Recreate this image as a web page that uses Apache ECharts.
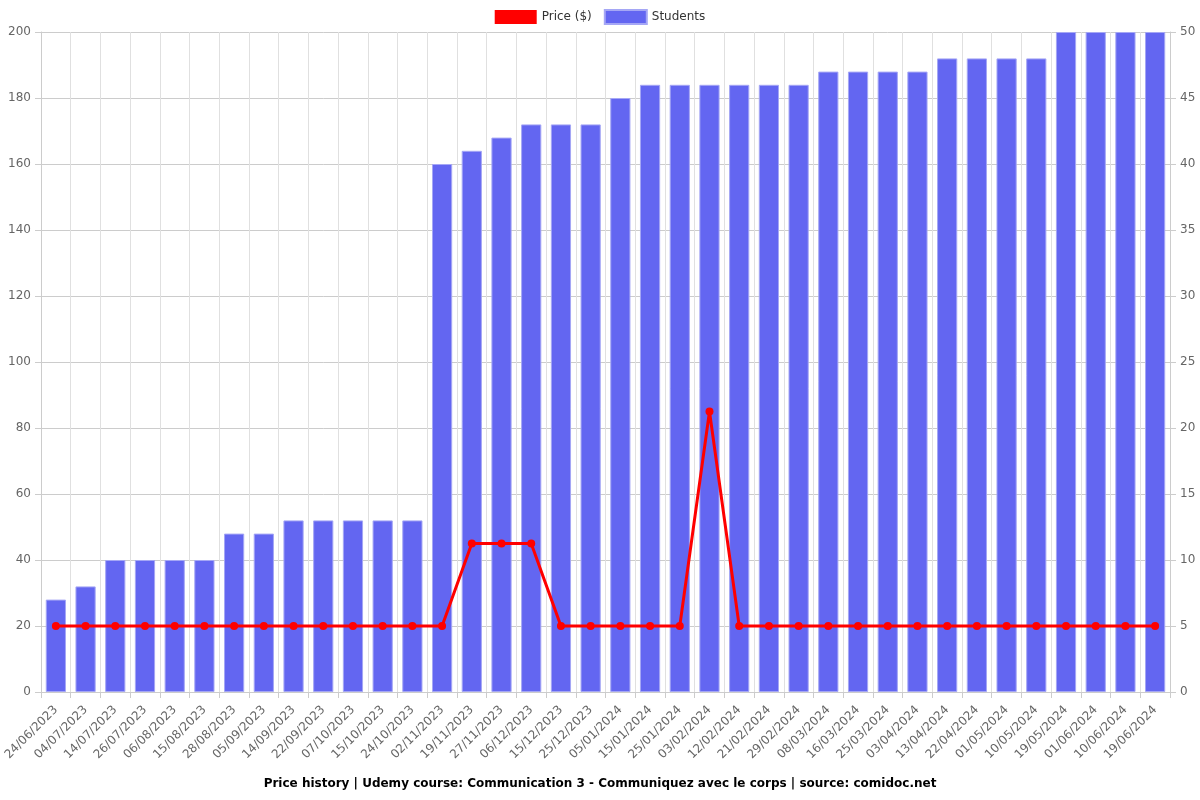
<!DOCTYPE html>
<html><head><meta charset="utf-8">
<script src="https://cdn.jsdelivr.net/npm/echarts@6/dist/echarts.min.js"></script>
<style>html,body{margin:0;padding:0;background:#fff}#c{width:1200px;height:800px}</style>
</head><body><div id="c"></div>
<script>
const categories = ["24/06/2023","04/07/2023","14/07/2023","26/07/2023","06/08/2023","15/08/2023","28/08/2023","05/09/2023","14/09/2023","22/09/2023","07/10/2023","15/10/2023","24/10/2023","02/11/2023","19/11/2023","27/11/2023","06/12/2023","15/12/2023","25/12/2023","05/01/2024","15/01/2024","25/01/2024","03/02/2024","12/02/2024","21/02/2024","29/02/2024","08/03/2024","16/03/2024","25/03/2024","03/04/2024","13/04/2024","22/04/2024","01/05/2024","10/05/2024","19/05/2024","01/06/2024","10/06/2024","19/06/2024"];
const price = [20,20,20,20,20,20,20,20,20,20,20,20,20,20,45,45,45,20,20,20,20,20,85,20,20,20,20,20,20,20,20,20,20,20,20,20,20,20];
const students = [7,8,10,10,10,10,12,12,13,13,13,13,13,40,41,42,43,43,43,45,46,46,46,46,46,46,47,47,47,47,48,48,48,48,50,50,50,50];
const leftTicks = {min:0,max:200,interval:20};
const rightTicks = {min:0,max:50,interval:5};
const titleText = "Price history | Udemy course: Communication 3 - Communiquez avec le corps | source: comidoc.net";

const font = "DejaVu Sans";
const chart = echarts.init(document.getElementById('c'), null, {renderer:'canvas'});
chart.setOption({
  animation:false,
  textStyle:{fontFamily:font},
  title:{text:titleText,left:'center',bottom:5,textStyle:{fontFamily:font,fontSize:12,fontWeight:'bold',color:'#000'}},
  legend:{top:4,left:'center',itemWidth:42,itemHeight:14,itemGap:12,textStyle:{fontFamily:font,fontSize:12,color:'#333'},
    data:[{name:'Price ($)',icon:'rect'},{name:'Students',icon:'rect'}]},
  grid:{left:41,right:30,top:32,bottom:108},
  xAxis:{type:'category',data:categories,boundaryGap:true,
    axisLine:{lineStyle:{color:'#ccc'}},
    axisTick:{show:true,alignWithLabel:false,length:6,lineStyle:{color:'#ccc'}},
    splitLine:{show:true,lineStyle:{color:'#e0e0e0'}},
    axisLabel:{rotate:45,interval:0,fontSize:12,color:'#666',fontFamily:font,margin:16}},
  yAxis:[
    {type:'value',min:leftTicks.min,max:leftTicks.max,interval:leftTicks.interval,
      axisLine:{show:true,lineStyle:{color:'#ccc'}},
      axisTick:{show:true,length:6,lineStyle:{color:'#ccc'}},
      splitLine:{lineStyle:{color:'#ccc'}},
      axisLabel:{fontSize:12,color:'#666',fontFamily:font,margin:10}},
    {type:'value',min:rightTicks.min,max:rightTicks.max,interval:rightTicks.interval,
      axisLine:{show:true,lineStyle:{color:'#ccc'}},
      axisTick:{show:true,length:6,lineStyle:{color:'#ccc'}},
      splitLine:{show:false},
      axisLabel:{fontSize:12,color:'#666',fontFamily:font,margin:10}}
  ],
  series:[
    {name:'Price ($)',type:'line',data:price,yAxisIndex:0,z:3,
      symbol:'circle',symbolSize:8,
      lineStyle:{color:'#ff0000',width:3},
      itemStyle:{color:'#ff0000',borderWidth:0}},
    {name:'Students',type:'bar',data:students,yAxisIndex:1,z:2,
      barCategoryGap:'32%',
      itemStyle:{color:'#6366f1',borderColor:'#a5a7f5',borderWidth:1}}
  ]
});
</script></body></html>
